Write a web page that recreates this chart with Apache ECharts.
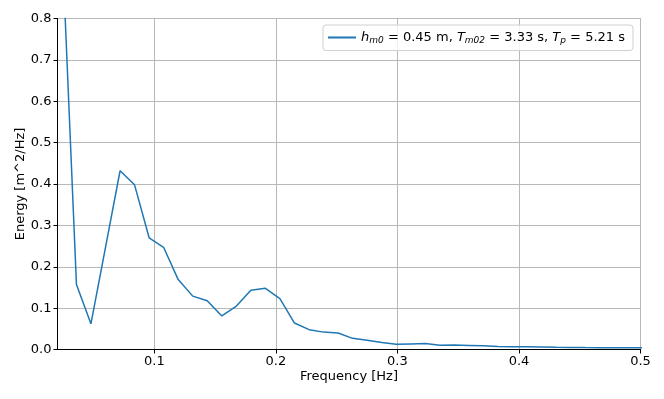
<!DOCTYPE html>
<html>
<head>
<meta charset="utf-8">
<script src="https://cdn.jsdelivr.net/npm/echarts@6/dist/echarts.min.js"></script>
<style>
html,body{margin:0;padding:0;background:#fff;}
#chart{width:664px;height:399px;}
</style>
</head>
<body>
<div id="chart"></div>
<script>
// Frequencies [Hz]
var frequencies = [0.0239, 0.0359, 0.0478, 0.0598, 0.0718, 0.0837, 0.0957, 0.1076, 0.1196, 0.1316,
  0.1435, 0.1555, 0.1675, 0.1794, 0.1914, 0.2033, 0.2153, 0.2273, 0.2392, 0.2512,
  0.2631, 0.2751, 0.2871, 0.2990, 0.3110, 0.3230, 0.3349, 0.3469, 0.3588, 0.3708,
  0.3828, 0.3947, 0.4067, 0.4186, 0.4306, 0.4426, 0.4545, 0.4665, 0.4785, 0.4904, 0.5024];
// Energy density [m^2/Hz]
var energy = [0.99, 0.157, 0.062, 0.247, 0.432, 0.398, 0.270, 0.247, 0.169, 0.129,
  0.118, 0.081, 0.105, 0.143, 0.148, 0.123, 0.064, 0.048, 0.042, 0.040,
  0.027, 0.0225, 0.017, 0.0125, 0.0135, 0.0145, 0.0105, 0.0108, 0.0098, 0.0088,
  0.0075, 0.0068, 0.0066, 0.0060, 0.0052, 0.0050, 0.0046, 0.0044, 0.0042, 0.0042, 0.0045];
var xTicks = [0.1, 0.2, 0.3, 0.4, 0.5];
var xMin = 0.0203, xMax = 0.5;
var yMin = 0, yMax = 0.8, yStep = 0.1;
var seriesName = 'spectrum';
var legendText = '{i|h}{s|m0}{n| = 0.45 m, }{i|T}{s|m02}{n| = 3.33 s, }{i|T}{s|p}{n| = 5.21 s}';
var xTitle = 'Frequency [Hz]';
var yTitle = 'Energy [m^2/Hz]';

var pts = frequencies.map(function (f, i) { return [f, energy[i]]; });
var font = 'DejaVu Sans';
var chart = echarts.init(document.getElementById('chart'), null, {renderer: 'canvas'});
chart.setOption({
  animation: false,
  backgroundColor: '#fff',
  textStyle: {fontFamily: font},
  grid: {left: 57.5, right: 23.5, top: 18.5, bottom: 49.5, show: true, borderColor: '#888', borderWidth: 1, containLabel: false},
  legend: {
    right: 31, top: 25, padding: [6, 8, 5, 5],
    backgroundColor: 'rgba(255,255,255,0.8)', borderColor: '#d0d0d0', borderWidth: 1, borderRadius: 3,
    itemWidth: 28, itemHeight: 2, itemGap: 8,
    data: [{name: seriesName, icon: 'rect'}],
    formatter: function () { return legendText; },
    textStyle: {
      fontFamily: font, fontSize: 13, color: '#000',
      rich: {
        n: {fontFamily: font, fontSize: 13, color: '#000'},
        i: {fontFamily: font, fontSize: 13, fontStyle: 'italic', color: '#000'},
        s: {fontFamily: font, fontSize: 9, fontStyle: 'italic', color: '#000', padding: [7, 0, 0, 0]}
      }
    }
  },
  xAxis: {
    type: 'value', min: xMin, max: xMax,
    name: xTitle, nameLocation: 'middle', nameGap: 21, nameMoveOverlap: false,
    nameTextStyle: {fontFamily: font, fontSize: 13, color: '#000'},
    axisLine: {show: true, onZero: false, lineStyle: {color: '#000', width: 1}},
    axisTick: {show: true, length: 4, customValues: xTicks, lineStyle: {color: '#000'}},
    axisLabel: {customValues: xTicks, fontFamily: font, fontSize: 13, color: '#000', margin: 6,
      formatter: function (v) { return v.toFixed(1); }},
    splitLine: {show: true, lineStyle: {color: '#b8b8b8', width: 1}}
  },
  yAxis: {
    type: 'value', min: yMin, max: yMax, interval: yStep,
    name: yTitle, nameLocation: 'middle', nameGap: 30, nameMoveOverlap: false,
    nameTextStyle: {fontFamily: font, fontSize: 13, color: '#000'},
    axisLine: {show: true, lineStyle: {color: '#000', width: 1}},
    axisTick: {show: true, length: 4, lineStyle: {color: '#000'}},
    axisLabel: {fontFamily: font, fontSize: 13, color: '#000', margin: 6,
      formatter: function (v) { return v.toFixed(1); }},
    splitLine: {show: true, lineStyle: {color: '#b8b8b8', width: 1}}
  },
  series: [{
    name: seriesName, type: 'line', data: pts, symbol: 'none', showSymbol: false,
    clip: true, lineStyle: {color: '#1f77b4', width: 1.5}, itemStyle: {color: '#1f77b4'}
  }]
});
</script>
</body>
</html>
